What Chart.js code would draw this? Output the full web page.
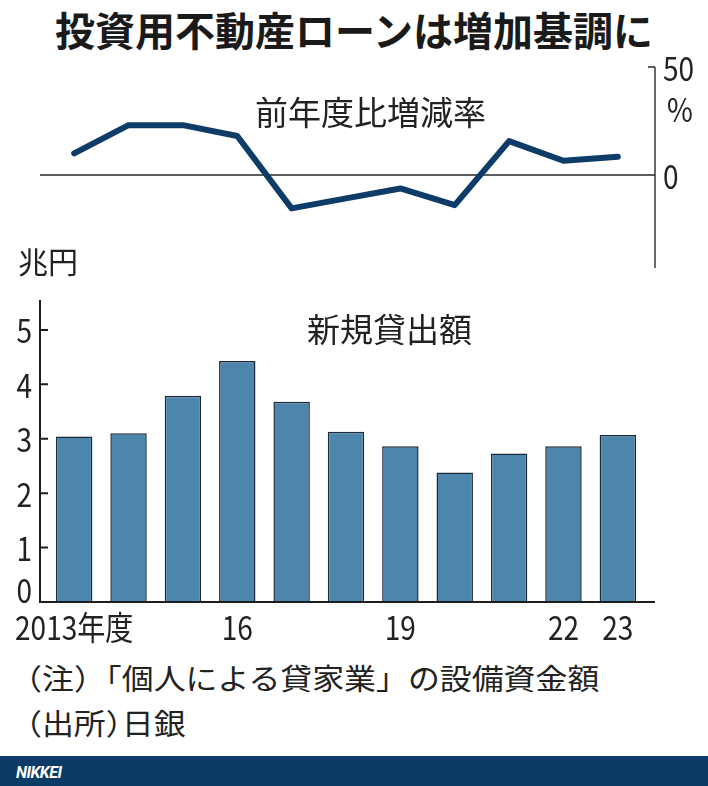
<!DOCTYPE html>
<html lang="ja">
<head>
<meta charset="utf-8">
<script src="https://cdn.jsdelivr.net/npm/chart.js@4.4.1/dist/chart.umd.min.js"></script>
<style>
  body { margin: 0; background: #fff; }
  #wrap { position: relative; width: 708px; height: 786px; overflow: hidden; font-family: 'Noto Sans CJK JP', sans-serif; color: #222; }
  .txt { position: absolute; white-space: nowrap; line-height: 1; text-spacing-trim: space-all; }
  .nota { font-size: 29px; transform: scaleX(1.1); transform-origin: 0 0; }
  .meia { font-feature-settings: 'halt'; }
  canvas { position: absolute; left: 0; }
  #titulo { left: 0; width: 708px; text-align: center; top: 9px; font-size: 40px; font-weight: 700; color: #1a1a1a; }
  #rodape { position: absolute; left: 0; top: 756px; width: 708px; height: 30px; background: #0d3b68; }
  #rodape span { position: absolute; left: 16px; top: 7px; font: italic 700 16px 'Roboto', sans-serif; color: #fff; letter-spacing: -0.5px; }
</style>
</head>
<body>
<div id="wrap">
  <div class="txt" id="titulo">投資用不動産ローンは増加基調に</div>
  <canvas id="grafico-taxa" width="708" height="230" style="top:55px"></canvas>
  <canvas id="grafico-emprestimo" width="708" height="360" style="top:290px"></canvas>
  <div class="txt" style="left:255px; top:95px; font-size:33px;">前年度比増減率</div>
  <div class="txt" style="left:18px; top:245px; font-size:30px;">兆円</div>
  <div class="txt" style="left:307px; top:312px; font-size:33px;">新規貸出額</div>
  <div class="txt nota" style="left:26px; top:663px;"><span class="meia">（</span>注<span class="meia">）</span>「個人による貸家業」の設備資金額</div>
  <div class="txt nota" style="left:26px; top:708px;"><span class="meia">（</span>出所<span class="meia">）</span>日銀</div>
  <div id="rodape"><span>NIKKEI</span></div>
</div>
<script>
const anos = ['2013年度', '14', '15', '16', '17', '18', '19', '20', '21', '22', '23'];
const rotulosX = ['2013年度', '', '', '16', '', '', '19', '', '', '22', '23'];
// 前年度比増減率 (%)
const taxaVariacao = [10.0, 23.1, 23.1, 18.1, -15.4, -10.8, -6.2, -13.9, 15.7, 6.6, 8.5];
// 新規貸出額 (兆円)
const novosEmprestimos = [3.04, 3.10, 3.79, 4.43, 3.68, 3.13, 2.86, 2.38, 2.73, 2.86, 3.07];
const ticksTaxa = [0, 50];
const ticksEmprestimo = [0, 1, 2, 3, 4, 5];

// texto estreito (fonte condensada do original)
const fonteNum = "33px 'Noto Sans CJK JP', sans-serif";
function textoEstreito(c, txt, x, y, alinhamento) {
    c.save();
    c.translate(x, y);
    c.scale(0.85, 1);
    c.font = fonteNum;
    c.fillStyle = '#222';
    c.textAlign = alinhamento;
    c.textBaseline = 'middle';
    c.fillText(txt, 0, 0);
    c.restore();
}

// eixos e rotulos do grafico de linha
const eixosTaxa = {
    id: 'eixosTaxa',
    beforeDatasetsDraw(chart) {
        const c = chart.ctx, y = chart.scales.y, a = chart.chartArea;
        const y0 = y.getPixelForValue(0);
        const y50 = y.getPixelForValue(50);
        c.save();
        c.strokeStyle = '#2a2a2a';
        c.lineWidth = 1.4;
        c.beginPath();
        c.moveTo(40, y0); c.lineTo(655, y0);
        c.moveTo(655, a.top); c.lineTo(655, a.bottom);
        c.moveTo(648, y50); c.lineTo(655, y50);
        c.stroke();
        c.restore();
        ticksTaxa.forEach(function (v) {
            const p = y.getPixelForValue(v);
            textoEstreito(c, String(v), 663, p + 1, 'left');
            if (v === 50) textoEstreito(c, '%', 667, p + 42, 'left');
        });
    }
};

// eixos e rotulos do grafico de barras
const eixosEmprestimo = {
    id: 'eixosEmprestimo',
    afterDatasetsDraw(chart) {
        const c = chart.ctx, x = chart.scales.x, y = chart.scales.y, a = chart.chartArea;
        c.save();
        c.strokeStyle = '#1e1e1e';
        c.lineWidth = 2;
        c.beginPath();
        c.moveTo(40, a.top); c.lineTo(40, a.bottom);
        c.moveTo(39, a.bottom); c.lineTo(655, a.bottom);
        ticksEmprestimo.forEach(function (v) {
            if (v === 0) return;
            const p = y.getPixelForValue(v);
            c.moveTo(40, p); c.lineTo(48, p);
        });
        c.stroke();
        c.restore();
        ticksEmprestimo.forEach(function (v) {
            const p = y.getPixelForValue(v);
            textoEstreito(c, String(v), 32, v === 0 ? p - 12 : p + 1, 'right');
        });
        rotulosX.forEach(function (r, i) {
            if (r) textoEstreito(c, r, x.getPixelForValue(i), a.bottom + 25, 'center');
        });
    }
};

new Chart(document.getElementById('grafico-taxa'), {
    type: 'line',
    data: {
        labels: anos,
        datasets: [{
            data: taxaVariacao,
            borderColor: '#0c3c67',
            borderWidth: 6,
            pointRadius: 0,
            tension: 0,
            fill: false,
            borderCapStyle: 'round',
            borderJoinStyle: 'round'
        }]
    },
    options: {
        responsive: false,
        animation: false,
        layout: { padding: { top: 12, bottom: 17, left: 47, right: 0 } },
        plugins: { legend: { display: false }, tooltip: { enabled: false } },
        scales: {
            x: { display: false, offset: true },
            y: {
                position: 'right',
                min: -43,
                max: 50,
                afterFit(s) { s.width = 63; s.paddingTop = 0; s.paddingBottom = 0; },
                ticks: { display: false },
                grid: { display: false, drawTicks: false },
                border: { display: false }
            }
        }
    },
    plugins: [eixosTaxa]
});

new Chart(document.getElementById('grafico-emprestimo'), {
    type: 'bar',
    data: {
        labels: anos,
        datasets: [{
            data: novosEmprestimos,
            backgroundColor: '#4d86ad',
            borderColor: '#1c2a38',
            borderWidth: 1.5,
            categoryPercentage: 1,
            barPercentage: 0.67
        }]
    },
    options: {
        responsive: false,
        animation: false,
        layout: { padding: { top: 10, bottom: 0, left: 0, right: 63 } },
        plugins: { legend: { display: false }, tooltip: { enabled: false } },
        scales: {
            x: {
                offset: true,
                afterFit(s) { s.height = 48; s.paddingLeft = 0; s.paddingRight = 0; },
                ticks: { display: false },
                grid: { display: false, drawTicks: false },
                border: { display: false }
            },
            y: {
                min: 0,
                max: 5.55,
                afterFit(s) { s.width = 47; s.paddingTop = 0; s.paddingBottom = 0; },
                ticks: { display: false },
                grid: { display: false, drawTicks: false },
                border: { display: false }
            }
        }
    },
    plugins: [eixosEmprestimo]
});
</script>
</body>
</html>
